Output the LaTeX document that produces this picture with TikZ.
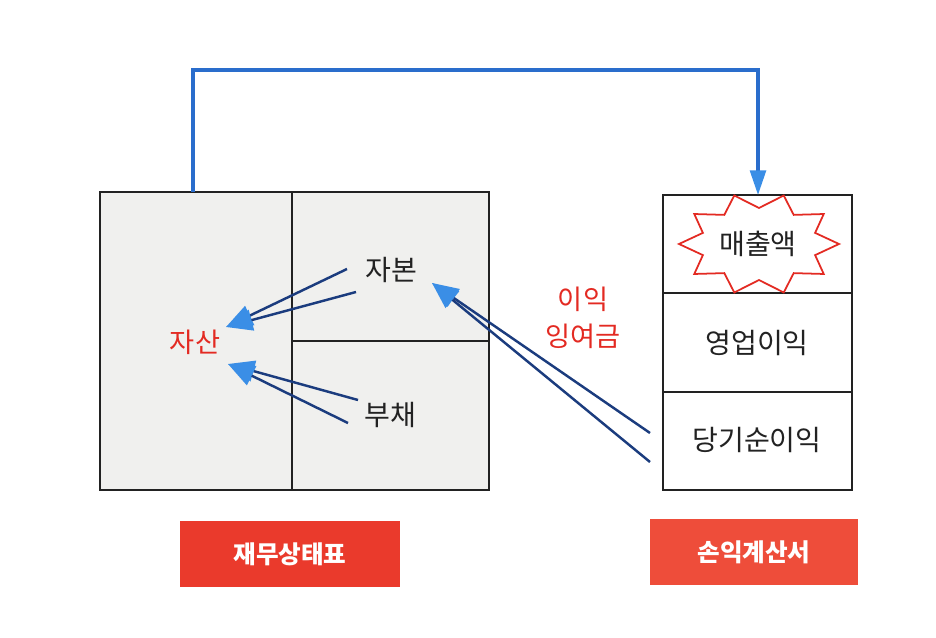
\documentclass[tikz,border=0pt]{standalone}
\usepackage{fontspec}
\setmainfont{Noto Sans CJK KR}
\usetikzlibrary{arrows.meta}

\definecolor{linkblue}{HTML}{2A6DCC}
\definecolor{tipblue}{HTML}{3A8EE6}
\definecolor{navy}{HTML}{1B3C7E}
\definecolor{labelred}{HTML}{E32A22}
\definecolor{tagred}{HTML}{EA3A2C}
\definecolor{tagorange}{HTML}{EE4D3A}
\definecolor{sheetgray}{HTML}{F0F0EE}
\definecolor{ink}{HTML}{222222}

\tikzset{
  item/.style={text=ink, font=\fontsize{16}{19}\selectfont},
  redlabel/.style={text=labelred, font=\fontsize{15.5}{21}\selectfont, align=center},
  tag/.style={fill=#1, text=white, font=\fontsize{14}{16}\selectfont\bfseries,
    minimum height=1.34cm, inner sep=0pt},
  frame/.style={ink, line width=1.1pt},
  burst/.style={draw=labelred, fill=white, line width=1pt, line join=miter},
  flow/.style={navy, line width=1.4pt,
    -{Triangle[length=15pt,width=12pt,color=tipblue,fill=tipblue]}},
  link/.style={linkblue, line width=1.8pt,
    -{Triangle[length=14pt,width=9pt,color=tipblue,fill=tipblue]}},
}

\begin{document}
\begin{tikzpicture}[x=0.02cm,y=-0.02cm]
\useasboundingbox (0,0) rectangle (936,638);

% balance sheet
\draw[frame, fill=sheetgray] (100,192) rectangle (489,490);
\draw[frame] (292,192) -- (292,490);
\draw[frame] (292,341) -- (489,341);

% income statement
\draw[frame, fill=white] (663,195) rectangle (852,490);
\draw[frame] (663,293) -- (852,293);
\draw[frame] (663,392) -- (852,392);

% starburst round the sales figure
\draw[burst, shift={(759,244)}]
  plot[samples at={0,18,...,342}, variable=\t]
  ({(mod(\t,36)==0 ? 80 : 59)*cos(\t)}, {(mod(\t,36)==0 ? 51 : 36)*sin(\t)}) -- cycle;
\node[item] (sales) at (758,244) {매출액};
\node[item] (opProfit) at (757,343) {영업이익};
\node[item] (netProfit) at (757,440) {당기순이익};

\node[redlabel] (asset) at (195,342) {자산};
\node[item] (equity) at (391,270) {자본};
\node[item] (debt) at (390,415) {부채};
\node[redlabel] (surplus) at (583,318) {이익\\잉여금};

% arrows
\coordinate (eqA) at (347,269);
\coordinate (eqB) at (356,292);
\coordinate (eqTip) at (226,327);
\coordinate (dbA) at (358,400);
\coordinate (dbB) at (348,423);
\coordinate (dbTip) at (228,364);
\coordinate (npA) at (650,433);
\coordinate (npB) at (650,462);
\coordinate (npTip) at (432,283);
\draw[flow] (eqA) -- (eqTip);
\draw[flow] (eqB) -- (eqTip);
\draw[flow] (dbA) -- (dbTip);
\draw[flow] (dbB) -- (dbTip);
\draw[flow] (npA) -- (npTip);
\draw[flow] (npB) -- (npTip);

\coordinate (bsTop) at (193,192);
\coordinate (ridge) at (758,70);
\coordinate (isTop) at (758,195);
\draw[link] (bsTop) |- (ridge) -- (isTop);

% titles
\node[tag=tagred, minimum width=4.4cm] (bsTag) at (290,554) {재무상태표};
\node[tag=tagorange, minimum width=4.16cm] (isTag) at (754,552) {손익계산서};
\end{tikzpicture}
\end{document}
